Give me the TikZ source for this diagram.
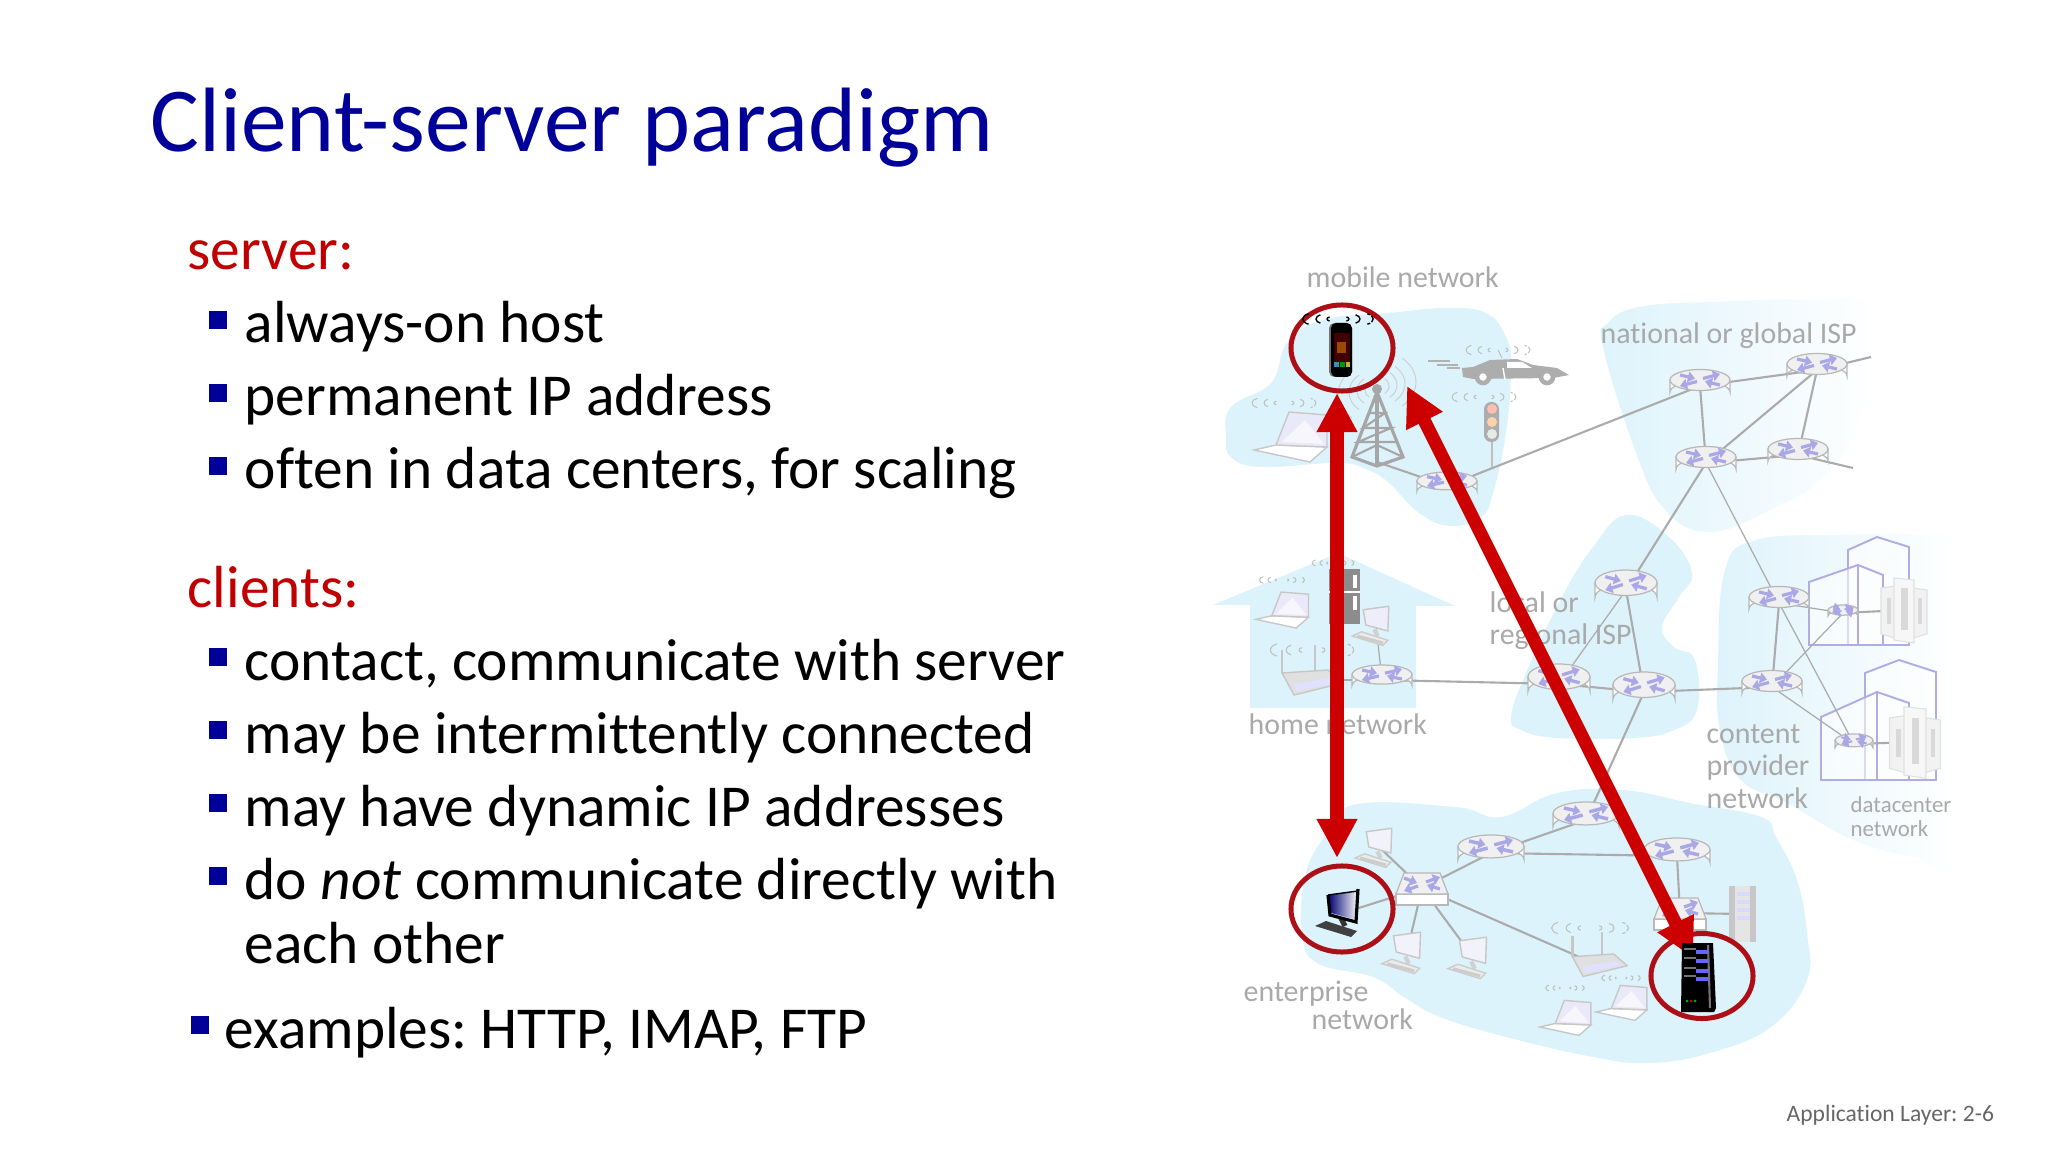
\documentclass[tikz,border=0pt]{standalone}
\usepackage{fontspec}
\setmainfont[Ligatures=NoCommon]{Carlito}
\frenchspacing
\usetikzlibrary{arrows.meta,shapes.geometric}
\definecolor{titleblue}{HTML}{000099}
\definecolor{headred}{HTML}{C00000}
\definecolor{arrowred}{HTML}{CC0000}
\definecolor{ringred}{HTML}{AD0F17}
\definecolor{blobblue}{HTML}{DDF3FB}
\definecolor{labelgray}{HTML}{A9A9A9}
\definecolor{linkgray}{HTML}{ABABAB}
\definecolor{lavender}{HTML}{A9A7E6}
\definecolor{buildline}{HTML}{B0ADE4}
\tikzset{
	titletext/.style={anchor=base west,inner sep=0pt,text=titleblue,font=\fontsize{26}{30}\selectfont},
	headtext/.style={anchor=base west,inner sep=0pt,text=headred,font=\fontsize{16.9}{20}\selectfont},
	bodytext/.style={anchor=base west,inner sep=0pt,text=black,font=\fontsize{16.9}{20}\selectfont},
	bulletbox/.style={fill=titleblue,inner sep=0pt,minimum width=0.18cm,minimum height=0.17cm},
	nettext/.style={anchor=base west,inner sep=0pt,text=labelgray,font=\fontsize{8.5}{10}\selectfont},
	smalltext/.style={anchor=base west,inner sep=0pt,text=labelgray,font=\fontsize{6.5}{8}\selectfont},
	pagetext/.style={anchor=base west,inner sep=0pt,text=black!60,font=\fontsize{6.7}{8}\selectfont},
	spot/.style={inner sep=0pt,minimum size=0pt},
	netlink/.style={draw=linkgray,line width=0.6pt},
	thinlink/.style={draw=linkgray,line width=0.35pt},
	routerside/.style={draw=black!28,fill=white,line width=0.35pt},
	routertop/.style={draw=black!28,fill=black!6,line width=0.35pt},
	xarrow/.style={lavender,-{Triangle[length=2pt,width=3pt]}},
	ringnode/.style={draw=ringred,line width=0.05cm,ellipse,inner sep=0pt},
	redarrow/.style={draw=arrowred,fill=arrowred,line width=0.14cm,{Triangle[length=0.39cm,width=0.38cm]}-{Triangle[length=0.39cm,width=0.38cm]}},
	buildingline/.style={draw=buildline,line width=0.55pt,fill=white,fill opacity=0.55},
}
\def\router#1#2#3{
	\begin{scope}[shift={(#1)},xscale=#2/30,yscale=#3/16.5]
		\filldraw[routerside] (-30,-6) -- (-30,6) arc[start angle=180,end angle=360,x radius=30,y radius=10.5] -- (30,-6) -- cycle;
		\filldraw[routertop] (0,-6) ellipse[x radius=30,y radius=10.5];
		\draw[xarrow,line width=#2/30*0.9pt] (-20,-11) -- (-5,-7.5);
		\draw[xarrow,line width=#2/30*0.9pt] (20,-1) -- (5,-4.5);
		\draw[xarrow,line width=#2/30*0.9pt] (3,-7.5) -- (20,-12);
		\draw[xarrow,line width=#2/30*0.9pt] (-3,-4.5) -- (-20,0);
	\end{scope}
}
\def\switchbox#1{
	\begin{scope}[shift={(#1)}]
		\filldraw[routerside] (-26,6) -- (26,6) -- (26,17) -- (-26,17) -- cycle;
		\filldraw[routertop] (-26,6) -- (-18,-15) -- (18,-15) -- (26,6) -- cycle;
		\draw[xarrow,line width=0.9pt] (-18,-10) -- (-5,-5);
		\draw[xarrow,line width=0.9pt] (18,1) -- (5,-3);
		\draw[xarrow,line width=0.9pt] (4,-6) -- (18,-11);
		\draw[xarrow,line width=0.9pt] (-4,-2) -- (-18,3);
	\end{scope}
}
\def\waves#1#2#3{
	\begin{scope}[shift={(#1)},xscale=2*#2,yscale=#2]
		\draw[line width=0.3pt,#3] (-5,0) arc[start angle=180,end angle=245,x radius=2,y radius=2];
		\draw[line width=0.3pt,#3] (-5,0) arc[start angle=180,end angle=115,x radius=2,y radius=2];
		\draw[line width=0.3pt,#3] (-10,0) arc[start angle=180,end angle=250,x radius=3,y radius=4];
		\draw[line width=0.3pt,#3] (-10,0) arc[start angle=180,end angle=110,x radius=3,y radius=4];
		\draw[line width=0.3pt,#3] (-16,0) arc[start angle=180,end angle=250,x radius=4,y radius=5];
		\draw[line width=0.3pt,#3] (-16,0) arc[start angle=180,end angle=110,x radius=4,y radius=5];
		\draw[line width=0.3pt,#3] (5,0) arc[start angle=0,end angle=65,x radius=2,y radius=2];
		\draw[line width=0.3pt,#3] (5,0) arc[start angle=0,end angle=-65,x radius=2,y radius=2];
		\draw[line width=0.3pt,#3] (10,0) arc[start angle=0,end angle=70,x radius=3,y radius=4];
		\draw[line width=0.3pt,#3] (10,0) arc[start angle=0,end angle=-70,x radius=3,y radius=4];
		\draw[line width=0.3pt,#3,dash pattern=on 1pt off 0.5pt] (16,0) arc[start angle=0,end angle=70,x radius=4,y radius=5];
		\draw[line width=0.3pt,#3,dash pattern=on 1pt off 0.5pt] (16,0) arc[start angle=0,end angle=-70,x radius=4,y radius=5];
	\end{scope}
}
\def\laptop#1#2{
	\begin{scope}[shift={(#1)},scale=#2]
		\filldraw[draw=black!22,fill=white,line width=0.4pt] (-24,15) -- (27,17) -- (10,32) -- (-46,20) -- cycle;
		\filldraw[draw=black!22,fill=lavender!25,line width=0.4pt] (-11,-18) -- (27,-15) -- (27,17) -- (-24,15) -- cycle;
		\fill[white,opacity=0.6] (5,-10) -- (24,14) -- (-18,12) -- cycle;
	\end{scope}
}
\def\desktop#1#2#3{
	\begin{scope}[shift={(#1)},scale=#2]
		\draw[black!18,line width=1.2pt] (-2,5) -- (2,13);
		\filldraw[draw=black!22,fill=#3,line width=0.4pt] (-15,-18) -- (15,-22) -- (14,7) -- (-12,0) -- cycle;
		\filldraw[draw=black!20,fill=black!8,line width=0.4pt] (-28,13) -- (-17,8) -- (14,18) -- (8,24) -- cycle;
		\draw[black!20,line width=0.8pt] (-22,13) -- (8,21);
	\end{scope}
}
\def\wifibox#1#2{
	\begin{scope}[shift={(#1)},scale=#2]
		\draw[black!22,line width=0.7pt] (-23,-7) -- (-23,-30);
		\draw[black!22,line width=0.7pt] (10,-9) -- (10,-35);
		\filldraw[draw=black!22,fill=black!12,line width=0.4pt] (-23,-7) -- (23,-10) -- (38,3) -- (-11,15) -- cycle;
		\fill[blue!12] (-12,4) -- (25,-2) -- (32,3) -- (-8,11) -- cycle;
	\end{scope}
}
\def\racks#1#2{
	\begin{scope}[shift={(#1)},scale=#2]
		\filldraw[draw=black!12,fill=black!5,line width=0.3pt] (-23,-22) -- (-9,-24) -- (-9,28) -- (-23,24) -- cycle;
		\filldraw[draw=black!12,fill=black!5,line width=0.3pt] (9,-22) -- (23,-20) -- (23,24) -- (9,28) -- cycle;
		\filldraw[draw=black!12,fill=black!3,line width=0.3pt] (-10,-32) -- (10,-30) -- (10,33) -- (-10,30) -- cycle;
		\draw[black!15,line width=2pt] (0,-22) -- (0,20);
		\draw[black!15,line width=1.2pt] (-15,-12) -- (-15,14);
		\draw[black!15,line width=1.2pt] (16,-12) -- (16,14);
	\end{scope}
}
\begin{document}
\begin{tikzpicture}[x=0.01cm,y=-0.01cm]
	\useasboundingbox (0,0) rectangle (2048,1152);
	%%%%% TEXT %%%%%
	\node[titletext] (title) at (150,152) {Client-server paradigm};
	\node[headtext] (serverhead) at (187,270) {server:};
	\node[bulletbox] (ba) at (218,320) {};
	\node[bodytext] (la) at (244,343) {always-on host};
	\node[bulletbox] (bb) at (218,393) {};
	\node[bodytext] (lb) at (244,416) {permanent IP address};
	\node[bulletbox] (bc) at (218,466) {};
	\node[bodytext] (lc) at (244,489) {often in data centers, for scaling};
	\node[headtext] (clienthead) at (187,607) {clients:};
	\node[bulletbox] (bd) at (218,657) {};
	\node[bodytext] (ld) at (244,680) {contact, communicate with server};
	\node[bulletbox] (be) at (218,730) {};
	\node[bodytext] (le) at (244,753) {may be intermittently connected};
	\node[bulletbox] (bf) at (218,803) {};
	\node[bodytext] (lf) at (244,826) {may have dynamic IP addresses};
	\node[bulletbox] (bg) at (218,876) {};
	\node[bodytext] (lg) at (244,899) {do \emph{not} communicate directly with};
	\node[bodytext] (lh) at (244,963) {each other};
	\node[bulletbox] (bh) at (200,1025) {};
	\node[bodytext] (li) at (224,1048) {examples: HTTP, IMAP, FTP};
	
	%%%%% NETWORK CLOUDS %%%%%
	\fill[blobblue] plot[smooth cycle,tension=0.7] coordinates {(1226,437) (1231,407) (1271,383) (1287,343) (1322,320) (1389,313) (1445,308) (1486,313) (1506,337) (1511,367) (1506,433) (1493,493) (1481,517) (1450,526) (1419,513) (1389,483) (1368,470) (1338,463) (1261,467) (1231,457)};
	\shade[left color=blobblue,right color=white] plot[smooth cycle,tension=0.7] coordinates {(1603,347) (1608,323) (1639,307) (1710,302) (1812,300) (1870,310) (1860,420) (1820,480) (1770,510) (1710,532) (1665,510) (1635,450)};
	\fill[blobblue] plot[smooth cycle,tension=0.7] coordinates {(1511,717) (1526,673) (1562,597) (1593,547) (1626,515) (1669,537) (1692,573) (1679,597) (1662,627) (1674,647) (1695,660) (1697,710) (1674,730) (1634,738) (1557,738) (1521,730)};
	\shade[left color=blobblue,right color=white] plot[smooth cycle,tension=0.7] coordinates {(1725,570) (1756,540) (1838,535) (1914,535) (1950,550) (1955,697) (1950,857) (1914,857) (1853,840) (1787,803) (1741,780) (1720,730) (1718,663)};
	\fill[blobblue] (1213,605) -- (1250,605) -- (1250,708) -- (1416,708) -- (1416,606) -- (1455,606) -- (1338,553) -- cycle;
	\fill[blobblue] plot[smooth cycle,tension=0.7] coordinates {(1353,805) (1455,807) (1501,817) (1557,793) (1623,790) (1690,803) (1761,817) (1776,837) (1797,880) (1807,933) (1807,980) (1771,1027) (1710,1053) (1649,1063) (1593,1057) (1506,1037) (1440,1017) (1404,997) (1373,977) (1317,963) (1302,933) (1305,877) (1322,840)};
	
	%%%%% BUILDINGS %%%%%
	\filldraw[buildingline] (1848,570) -- (1848,550) -- (1877,537) -- (1909,547) -- (1909,645) -- (1848,645) -- cycle;
	\filldraw[buildingline] (1809,645) -- (1809,582) -- (1858,565) -- (1883,575) -- (1883,645) -- cycle;
	\draw[buildline,line width=0.55pt] (1858,565) -- (1858,645);
	\filldraw[buildingline] (1865,687) -- (1865,673) -- (1899,660) -- (1936,672) -- (1936,780) -- (1865,780) -- cycle;
	\filldraw[buildingline] (1821,780) -- (1821,717) -- (1877,692) -- (1909,703) -- (1909,780) -- cycle;
	\draw[buildline,line width=0.55pt] (1877,692) -- (1877,780);
	
	%%%%% ROUTER SPOTS %%%%%
	\node[spot] (mrouter) at (1447,486) {};
	\node[spot] (ga) at (1700,386) {};
	\node[spot] (gb) at (1817,370) {};
	\node[spot] (gc) at (1706,463) {};
	\node[spot] (gd) at (1798,455) {};
	\node[spot] (ra) at (1626,590) {};
	\node[spot] (rb) at (1559,684) {};
	\node[spot] (rc) at (1644,692) {};
	\node[spot] (hrouter) at (1382,680) {};
	\node[spot] (ca) at (1779,603) {};
	\node[spot] (cb) at (1772,687) {};
	\node[spot] (da) at (1843,613) {};
	\node[spot] (db) at (1854,744) {};
	\node[spot] (ea) at (1586,820) {};
	\node[spot] (eb) at (1491,853) {};
	\node[spot] (ec) at (1677,856) {};
	\node[spot] (sa) at (1422,888) {};
	\node[spot] (sb) at (1680,913) {};
	\node[spot] (tower) at (1377,462) {};
	\node[spot] (hdesk) at (1376,625) {};
	\node[spot] (hwifi) at (1305,680) {};
	\node[spot] (edeska) at (1379,847) {};
	\node[spot] (edeskb) at (1407,952) {};
	\node[spot] (edeskc) at (1473,957) {};
	\node[spot] (ewifi) at (1593,963) {};
	\node[spot] (client) at (1343,913) {};
	\node[spot] (rackbox) at (1742,914) {};
	\node[spot] (racka) at (1904,610) {};
	\node[spot] (rackb) at (1915,742) {};
	\coordinate (stuba) at (1871,357);
	\coordinate (stubb) at (1853,468);
	
	%%%%% LINKS %%%%%
	\draw[netlink] (tower) -- (mrouter);
	\draw[netlink] (mrouter) -- (ga);
	\draw[netlink] (ga) -- (gb);
	\draw[netlink] (ga) -- (gc);
	\draw[netlink] (gb) -- (gc);
	\draw[netlink] (gb) -- (gd);
	\draw[netlink] (gc) -- (gd);
	\draw[netlink] (gb) -- (stuba);
	\draw[netlink] (gd) -- (stubb);
	\draw[netlink] (gc) -- (ra);
	\draw[thinlink] (gc) -- (ca);
	\draw[thinlink] (ra) -- (rb);
	\draw[netlink] (ra) -- (rc);
	\draw[netlink] (rb) -- (rc);
	\draw[netlink] (hrouter) -- (rb);
	\draw[netlink] (hrouter) -- (hwifi);
	\draw[thinlink] (hrouter) -- (hdesk);
	\draw[netlink] (rc) -- (cb);
	\draw[netlink] (rc) -- (ea);
	\draw[netlink] (ca) -- (cb);
	\draw[thinlink] (ca) -- (da);
	\draw[thinlink] (cb) -- (da);
	\draw[thinlink] (ca) -- (db);
	\draw[thinlink] (cb) -- (db);
	\draw[netlink] (da) -- (racka);
	\draw[netlink] (db) -- (rackb);
	\draw[netlink] (ea) -- (eb);
	\draw[netlink] (eb) -- (ec);
	\draw[netlink] (eb) -- (sa);
	\draw[netlink] (ec) -- (sb);
	\draw[netlink] (sb) -- (rackbox);
	\draw[netlink] (sa) -- (client);
	\draw[netlink] (sa) -- (edeska);
	\draw[netlink] (sa) -- (edeskb);
	\draw[netlink] (sa) -- (edeskc);
	\draw[netlink] (sa) -- (ewifi);
	
	%%%%% ROUTERS %%%%%
	\router{mrouter}{30}{14}
	\router{ga}{30}{16.5}
	\router{gb}{30}{16.5}
	\router{gc}{30}{16.5}
	\router{gd}{30}{16.5}
	\router{ra}{31}{20}
	\router{rb}{31}{20}
	\router{rc}{31}{20}
	\router{hrouter}{30}{15}
	\router{ca}{30}{16.5}
	\router{cb}{30}{16.5}
	\router{da}{15}{8}
	\router{db}{19}{10}
	\router{ea}{33}{18}
	\router{eb}{33}{18}
	\router{ec}{33}{18}
	\switchbox{sa}
	\switchbox{sb}
	
	%%%%% MOBILE NETWORK %%%%%
	\laptop{1300,430}{1}
	\waves{1284,403}{1}{black!25}
	\foreach \r in {12,20,28,39} {
		\draw[black!20,line width=0.25pt] (1377,388) ++(-50:\r) arc[start angle=-50,end angle=50,x radius=\r,y radius=\r*0.8];
		\draw[black!20,line width=0.25pt] (1377,388) ++(130:\r) arc[start angle=130,end angle=230,x radius=\r,y radius=\r*0.8];
	}
	\draw[black!35,line width=0.9pt] (1352,457) -- (1377,392) -- (1403,457) -- (1377,466) -- cycle;
	\draw[black!35,line width=0.9pt] (1377,392) -- (1377,466);
	\draw[black!35,line width=0.6pt] (1369,413) -- (1385,413) -- (1363,428) -- (1391,428) -- (1358,442) -- (1397,442);
	\draw[black!35,line width=0.6pt] (1352,457) -- (1377,445) -- (1403,457);
	\fill[black!35] (1377,389) circle (5);
	% car
	\draw[black!30,line width=0.5pt] (1428,361) -- (1450,361) (1437,365) -- (1458,365) (1447,368) -- (1460,368);
	\fill[black!32] (1462,368) -- (1473,367) -- (1490,360) -- (1517,359) -- (1533,365) -- (1557,368) -- (1569,375) -- (1553,378) -- (1473,379) -- (1463,377) -- cycle;
	\fill[white] (1507,362) -- (1522,362) -- (1532,368) -- (1507,368) -- cycle;
	\draw[white,line width=0.4pt] (1503,368) -- (1505,380);
	\filldraw[draw=black!32,fill=white,line width=1.3pt] (1483,377) circle (6);
	\filldraw[draw=black!32,fill=white,line width=1.3pt] (1547,377) circle (6);
	\draw[black!25,line width=0.3pt] (1502,358) -- (1498,350);
	\waves{1498,350}{1}{black!25}
	% traffic light
	\draw[black!25,line width=0.5pt] (1492,442) -- (1492,467);
	\fill[black!32,rounded corners=2pt] (1484,402) rectangle (1499,442);
	\fill[orange!30!red!30] (1492,409) circle (5);
	\fill[orange!35] (1492,422) circle (5);
	\fill[green!25!black!10] (1492,434) circle (5);
	\waves{1484,397}{1}{black!25}
	
	%%%%% HOME NETWORK %%%%%
	\laptop{1289,605}{0.72}
	\waves{1282,580}{0.7}{black!25}
	\fill[black!45] (1329,569) rectangle (1360,624);
	\draw[white,line width=0.5pt] (1329,592) -- (1360,592);
	\draw[white,line width=1pt] (1355,575) -- (1355,588) (1355,596) -- (1355,610);
	\waves{1333,563}{0.65}{black!25}
	\desktop{hdesk}{0.85}{lavender!20}
	\wifibox{hwifi}{1}
	\waves{1312,650}{1.3}{black!25}
	
	%%%%% ENTERPRISE NETWORK %%%%%
	\desktop{edeska}{0.85}{lavender!15}
	\desktop{edeskb}{0.9}{lavender!15}
	\desktop{edeskc}{0.9}{lavender!15}
	\wifibox{ewifi}{0.9}
	\waves{1590,928}{1.2}{black!25}
	\laptop{1572,1013}{0.7}
	\waves{1565,988}{0.6}{black!25}
	\laptop{1628,998}{0.7}
	\waves{1621,978}{0.6}{black!25}
	\fill[black!22] (1729,886) rectangle (1756,942);
	\fill[black!10] (1735,886) rectangle (1750,942);
	\foreach \y in {892,900,908,916} {
		\fill[blue!15] (1737,\y) rectangle (1750,\y+4);
	}
	
	%%%%% DATACENTER %%%%%
	\racks{racka}{1}
	\racks{rackb}{1.1}
	
	%%%%% LABELS %%%%%
	\node[nettext] (mobilelabel) at (1306,288) {mobile network};
	\node[nettext] (globallabel) at (1600,344) {national or global ISP};
	\node[nettext] (locallabel) at (1489,613) {local or};
	\node[nettext] (locallabelb) at (1489,645) {regional ISP};
	\node[nettext] (homelabel) at (1248,734) {home network};
	\node[nettext] (contentlabel) at (1706,743) {content};
	\node[nettext] (contentlabelb) at (1706,775) {provider};
	\node[nettext] (contentlabelc) at (1706,808) {network};
	\node[smalltext] (datalabel) at (1850,812) {datacenter};
	\node[smalltext] (datalabelb) at (1850,836) {network};
	\node[nettext] (enterlabel) at (1243,1001) {enterprise};
	\node[nettext] (enterlabelb) at (1311,1029) {network};
	\node[pagetext] (pagenumber) at (1786,1121) {Application Layer: 2-6};
	
	%%%%% CLIENTS AND SERVER %%%%%
	\node[ringnode,minimum width=1.02cm,minimum height=0.86cm] (phonering) at (1342,348) {};
	\node[ringnode,minimum width=1.02cm,minimum height=0.86cm] (clientring) at (1342,909) {};
	\node[ringnode,minimum width=1.02cm,minimum height=0.85cm] (serverring) at (1702,976) {};
	\coordinate (tipa) at (1337,393);
	\coordinate (tipb) at (1337,858);
	\coordinate (tipc) at (1407,386);
	\coordinate (tipd) at (1693,958);
	\draw[redarrow] (tipa) -- (tipb);
	\draw[redarrow,line width=0.13cm] (tipc) -- (tipd);
	% phone
	\waves{1338,319}{1.1}{black,line width=0.4pt}
	\fill[black!55,rounded corners=1.5pt] (1329,323) rectangle (1352,377);
	\fill[black,rounded corners=1.5pt] (1331,323) rectangle (1352,377);
	\fill[black!75!red] (1334,333) rectangle (1350,364);
	\fill[orange!60!black] (1337,342) rectangle (1346,353);
	\fill[cyan!70!black] (1334,362) rectangle (1339,367);
	\fill[green!60!black] (1340,362) rectangle (1345,367);
	\fill[yellow!70!black] (1346,362) rectangle (1350,367);
	% client computer
	\begin{scope}[shift={(client)}]
		\draw[black!80,line width=1.5pt] (-2,5) -- (2,13);
		\shade[left color=blue!45!black,right color=white] (-15,-18) -- (15,-22) -- (14,7) -- (-12,0) -- cycle;
		\draw[black,line width=0.9pt] (15,-24) -- (13,9) -- (-13,2) -- (-15,-18);
		\draw[black,line width=0.4pt] (-15,-18) -- (15,-22);
		\fill[black!75] (-28,13) -- (-17,8) -- (14,18) -- (8,24) -- cycle;
	\end{scope}
	% server
	\fill[black] (1682,943) -- (1713,943) -- (1716,1008) -- (1714,1012) -- (1681,1012) -- cycle;
	\draw[black!55,line width=0.6pt] (1708,945) -- (1710,1008);
	\foreach \y in {952,961,971,979} {
		\fill[blue!60!white] (1696,\y-2) rectangle (1708,\y+2);
		\draw[black!55,line width=0.5pt] (1684,\y-3) -- (1696,\y-3);
	}
	\fill[green!70!black] (1687,1001) circle (1.5);
	\fill[red!80!black] (1691,1001) circle (1.5);
	\fill[green!70!black] (1695,1001) circle (1.5);
	%%%%% END %%%%%
\end{tikzpicture}
\end{document}
